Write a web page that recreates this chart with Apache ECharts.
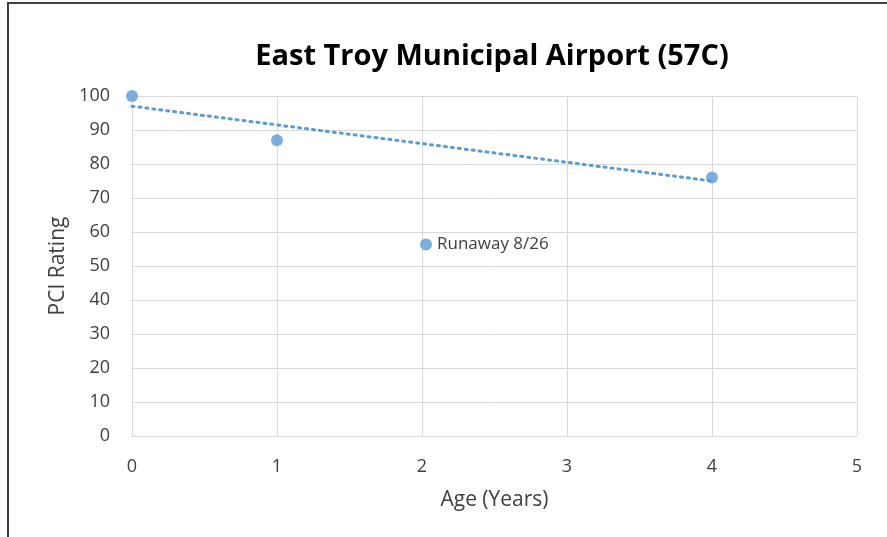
<!DOCTYPE html>
<html>
<head>
<meta charset="utf-8">
<script src="https://cdn.jsdelivr.net/npm/echarts@6/dist/echarts.min.js"></script>
<style>
  html, body { margin: 0; padding: 0; background: #fff; }
  #chart { width: 887px; height: 537px; }
</style>
</head>
<body>
<div id="chart"></div>
<script>
const ageYears = [0, 1, 4];
const pciRating = [100, 87, 76];
// dotted linear trendline, end points as drawn
const trendAge = [0, 4];
const trendPci = [97, 75];
const seriesName = "Runaway 8/26";

const FONT = "'Open Sans', 'Noto Sans', sans-serif";
const BLUE = "#5B9BD5";

const chart = echarts.init(document.getElementById("chart"), null, { renderer: "canvas" });

chart.setOption({
  backgroundColor: "#fff",
  animation: false,
  graphic: [
    {
      type: "rect",
      shape: { x: 8, y: 3, width: 900, height: 560 },
      style: { fill: "none", stroke: "#404040", lineWidth: 2 },
      silent: true
    }
  ],
  title: {
    text: "East Troy Municipal Airport (57C)",
    left: 487,
    textAlign: "center",
    top: 37,
    textStyle: { fontFamily: FONT, fontSize: 29, fontWeight: "bold", color: "#000" }
  },
  grid: { left: 132, right: 30, top: 96, bottom: 101 },
  legend: {
    data: [seriesName],
    left: 415,
    top: 231,
    icon: "circle",
    itemWidth: 12,
    itemHeight: 12,
    textStyle: { fontFamily: FONT, fontSize: 17, color: "#404040" }
  },
  xAxis: {
    type: "value",
    min: 0,
    max: 5,
    interval: 1,
    name: "Age (Years)",
    nameLocation: "middle",
    nameGap: 54,
    nameTextStyle: { fontFamily: FONT, fontSize: 21, color: "#404040" },
    axisLine: { show: false },
    axisTick: { show: false },
    axisLabel: { margin: 22, fontFamily: FONT, fontSize: 18, color: "#404040" },
    splitLine: { show: true, lineStyle: { color: "#d9d9d9", width: 1 } }
  },
  yAxis: {
    type: "value",
    min: 0,
    max: 100,
    interval: 10,
    name: "PCI Rating",
    nameLocation: "middle",
    nameGap: 62,
    nameTextStyle: { fontFamily: FONT, fontSize: 21, color: "#404040" },
    axisLine: { show: false },
    axisTick: { show: false },
    axisLabel: { margin: 22, fontFamily: FONT, fontSize: 18, color: "#404040" },
    splitLine: { show: true, lineStyle: { color: "#d9d9d9", width: 1 } }
  },
  series: [
    {
      name: "trend",
      type: "line",
      data: trendAge.map((x, i) => [x, trendPci[i]]),
      showSymbol: false,
      symbol: "none",
      silent: true,
      z: 1,
      lineStyle: { color: BLUE, width: 3, type: [2, 5], cap: "round" }
    },
    {
      name: seriesName,
      type: "scatter",
      data: ageYears.map((x, i) => [x, pciRating[i]]),
      symbol: "circle",
      symbolSize: 12,
      z: 3,
      itemStyle: { color: BLUE }
    }
  ]
});
</script>
</body>
</html>
